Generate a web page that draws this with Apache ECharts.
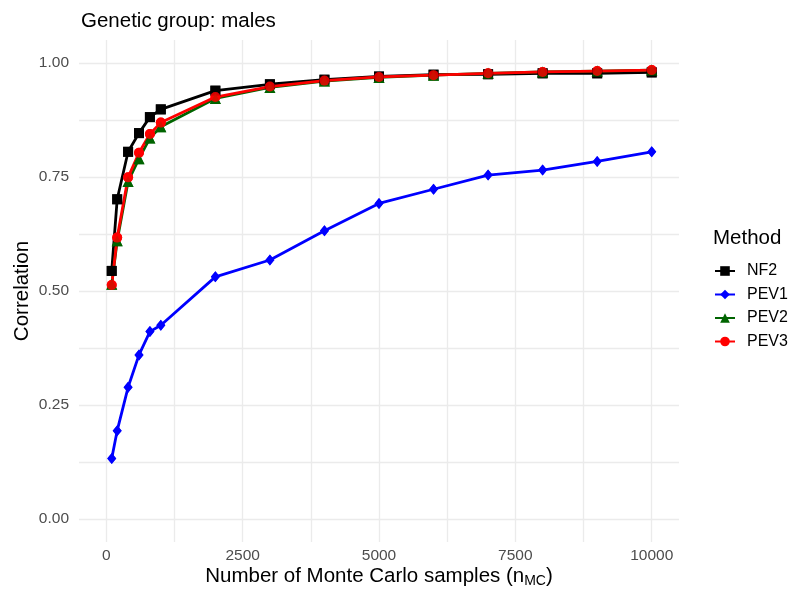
<!DOCTYPE html>
<html>
<head>
<meta charset="utf-8">
<script src="https://cdn.jsdelivr.net/npm/echarts@6/dist/echarts.min.js"></script>
<style>
  html, body { margin: 0; padding: 0; background: #fff; }
  #chart { width: 793px; height: 596px; }
</style>
</head>
<body>
<div id="chart"></div>
<script>
// 数据
const nSamples = [100, 200, 400, 600, 800, 1000, 2000, 3000, 4000, 5000, 6000, 7000, 8000, 9000, 10000];
const nf2 = [0.544, 0.701, 0.805, 0.846, 0.881, 0.898, 0.939, 0.953, 0.963, 0.970, 0.974, 0.975, 0.977, 0.977, 0.979];
const pev1 = [0.133, 0.194, 0.289, 0.360, 0.411, 0.425, 0.531, 0.568, 0.632, 0.692, 0.723, 0.754, 0.765, 0.784, 0.805];
const pev2 = [0.515, 0.610, 0.740, 0.790, 0.835, 0.860, 0.922, 0.946, 0.960, 0.968, 0.973, 0.977, 0.980, 0.982, 0.984];
const pev3 = [0.513, 0.617, 0.749, 0.803, 0.844, 0.869, 0.925, 0.948, 0.961, 0.969, 0.973, 0.977, 0.980, 0.982, 0.984];
const methods = ['NF2', 'PEV1', 'PEV2', 'PEV3'];
const xTickLabels = [0, 2500, 5000, 7500, 10000];
const yTickLabels = [0, 0.25, 0.5, 0.75, 1];

const seriesValues = [nf2, pev1, pev2, pev3];
const colors = ['#000000', '#0000ff', '#006400', '#ff0000'];
const symbols = ['rect', 'diamond', 'triangle', 'circle'];
const symbolSizes = [10, [9, 11], 11, 10];

const font = 'Liberation Sans, Arial, sans-serif';

// 网格线：主刻度加上中间的次刻度
const xGrid = [];
for (let i = 0; i < xTickLabels.length; i++) {
  xGrid.push(xTickLabels[i]);
  if (i < xTickLabels.length - 1) xGrid.push((xTickLabels[i] + xTickLabels[i + 1]) / 2);
}
const yGrid = [];
for (let i = 0; i < yTickLabels.length; i++) {
  yGrid.push(yTickLabels[i]);
  if (i < yTickLabels.length - 1) yGrid.push((yTickLabels[i] + yTickLabels[i + 1]) / 2);
}

const chart = echarts.init(document.getElementById('chart'));

const lineSeries = methods.map((name, i) => ({
  name: name,
  type: 'line',
  z: 2,
  data: nSamples.map((x, j) => [x, seriesValues[i][j]]),
  symbol: symbols[i],
  symbolSize: symbolSizes[i],
  showSymbol: true,
  color: colors[i],
  lineStyle: { width: 2.8, color: colors[i] },
  itemStyle: { color: colors[i] },
  emphasis: { disabled: true },
  animation: false
}));

// 点画在所有线之上（同 ggplot 图层顺序）
const pointSeries = methods.map((name, i) => ({
  name: name + '_pts',
  type: 'scatter',
  z: 3,
  data: nSamples.map((x, j) => [x, seriesValues[i][j]]),
  symbol: symbols[i],
  symbolSize: symbolSizes[i],
  itemStyle: { color: colors[i] },
  emphasis: { disabled: true },
  animation: false
}));

const option = {
  backgroundColor: '#ffffff',
  animation: false,
  textStyle: { fontFamily: font },
  title: [
    {
      text: 'Genetic group: males',
      left: 76,
      top: 6,
      textStyle: { fontSize: 20.5, fontWeight: 'normal', color: '#000', fontFamily: font }
    },
    {
      text: 'Method',
      left: 708,
      top: 223,
      textStyle: { fontSize: 20.5, fontWeight: 'normal', color: '#000', fontFamily: font }
    }
  ],
  legend: {
    data: methods,
    orient: 'vertical',
    left: 714,
    top: 263,
    padding: 0,
    itemWidth: 20,
    itemHeight: 12,
    itemGap: 7.5,
    textStyle: { fontSize: 16, color: '#000', fontFamily: font, padding: [0, 0, 0, 7] },
    selectedMode: false
  },
  grid: {
    left: 79,
    right: 114,
    top: 40,
    bottom: 54
  },
  xAxis: {
    type: 'value',
    min: -500,
    max: 10500,
    name: 'Number of Monte Carlo samples (n{sub|MC})',
    nameLocation: 'middle',
    nameGap: 22,
    nameMoveOverlap: false,
    nameTextStyle: {
      fontSize: 20.5,
      color: '#000',
      fontFamily: font,
      rich: {
        sub: { fontSize: 14, verticalAlign: 'bottom', padding: [10, 0, 0, 0], color: '#000', fontFamily: font }
      }
    },
    axisLine: { show: false },
    axisTick: { show: false, customValues: xGrid },
    axisLabel: {
      customValues: xTickLabels,
      margin: 6,
      fontSize: 15.5,
      color: '#4d4d4d',
      fontFamily: font,
      formatter: v => String(v)
    },
    splitLine: { show: true, lineStyle: { color: '#ebebeb', width: 1.3 } }
  },
  yAxis: {
    type: 'value',
    min: -0.05,
    max: 1.05,
    name: 'Correlation',
    nameLocation: 'middle',
    nameGap: 46,
    nameMoveOverlap: false,
    nameTextStyle: { fontSize: 20.5, color: '#000', fontFamily: font },
    axisLine: { show: false },
    axisTick: { show: false, customValues: yGrid },
    axisLabel: {
      customValues: yTickLabels,
      margin: 10,
      fontSize: 15.5,
      color: '#4d4d4d',
      fontFamily: font,
      formatter: v => v.toFixed(2)
    },
    splitLine: { show: true, lineStyle: { color: '#ebebeb', width: 1.3 } }
  },
  series: lineSeries.concat(pointSeries)
};

chart.setOption(option);
</script>
</body>
</html>
